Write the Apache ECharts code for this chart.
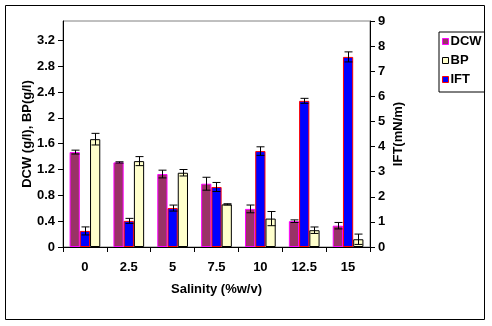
<!DOCTYPE html>
<html><head><meta charset="utf-8">
<script src="https://cdn.jsdelivr.net/npm/echarts@6/dist/echarts.min.js"></script>
<style>html,body{margin:0;padding:0;background:#fff}#c{width:492px;height:326px}</style>
</head><body><div id="c"></div>
<script>
const categories = ['0', '2.5', '5', '7.5', '10', '12.5', '15'];
const dcw = [1.47, 1.31, 1.13, 0.98, 0.59, 0.40, 0.33];
const dcwErr = [0.03, 0.01, 0.06, 0.10, 0.06, 0.02, 0.05];
const bp = [1.67, 1.33, 1.15, 0.66, 0.44, 0.26, 0.12];
const bpErr = [0.09, 0.07, 0.05, 0.01, 0.11, 0.05, 0.08];
const ift = [0.64, 1.04, 1.55, 2.39, 3.82, 5.82, 7.57];
const iftErr = [0.16, 0.10, 0.12, 0.18, 0.17, 0.10, 0.20];
const leftTicks = [0, 0.4, 0.8, 1.2, 1.6, 2, 2.4, 2.8, 3.2];

const FONT = "'Liberation Sans', Arial, sans-serif";
const FS = 13;
const GAP = 0.3;
function errRender(offsetIdx) {
  return function (params, api) {
    const xi = api.value(0), lo = api.value(1), hi = api.value(2);
    const band = api.size([1, 0])[0];
    const bw = band * (1 - GAP) / 3;
    const top = api.coord([xi, hi]);
    const bot = api.coord([xi, lo]);
    const x = Math.round(top[0] + offsetIdx * bw) + 0.5;
    const half = 4;
    const st = { stroke: '#000', lineWidth: 1 };
    return {
      type: 'group',
      children: [
        { type: 'line', shape: { x1: x, y1: top[1], x2: x, y2: bot[1] }, style: st },
        { type: 'line', shape: { x1: x - half, y1: top[1], x2: x + half, y2: top[1] }, style: st },
        { type: 'line', shape: { x1: x - half, y1: bot[1], x2: x + half, y2: bot[1] }, style: st }
      ]
    };
  };
}
function errData(v, e) { return v.map((d, i) => [i, d - e[i], d + e[i]]); }

const chart = echarts.init(document.getElementById('c'), null, { renderer: 'canvas' });
chart.setOption({
  animation: false,
  backgroundColor: '#fff',
  textStyle: { fontFamily: FONT },
  graphic: [{
    type: 'rect', shape: { x: 5.5, y: 5.5, width: 479, height: 314 },
    style: { fill: 'none', stroke: '#000', lineWidth: 1 }, z: 0
  }],
  grid: { left: 63, right: 122, top: 21, bottom: 79, show: true, borderColor: '#808080', borderWidth: 1, backgroundColor: 'transparent' },
  legend: {
    orient: 'vertical', left: 439, top: 32,
    data: ['DCW', 'BP', 'IFT'],
    icon: 'rect', itemWidth: 6, itemHeight: 6, itemGap: 6,
    itemStyle: { borderWidth: 1 },
    borderColor: '#000', borderWidth: 1, padding: [3, 3, 6, 3],
    textStyle: { fontFamily: FONT, fontWeight: 'bold', fontSize: FS, color: '#000', lineHeight: 13, padding: [0, 0, 0, -3] }
  },
  xAxis: {
    type: 'category', data: categories,
    name: 'Salinity (%w/v)', nameLocation: 'middle', nameGap: 36,
    nameTextStyle: { fontFamily: FONT, fontWeight: 'bold', fontSize: FS, color: '#000' },
    axisLine: { lineStyle: { color: '#000', width: 1 } },
    axisTick: { show: true, length: 5, lineStyle: { color: '#000' } },
    axisLabel: { margin: 14, fontFamily: FONT, fontWeight: 'bold', fontSize: FS, color: '#000' }
  },
  yAxis: [{
    type: 'value', min: 0, max: 3.5, interval: 0.4, position: 'left',
    name: 'DCW (g/l), BP(g/l)', nameLocation: 'middle', nameGap: 29, nameRotate: 90, nameMoveOverlap: false,
    nameTextStyle: { fontFamily: FONT, fontWeight: 'bold', fontSize: FS, color: '#000' },
    splitLine: { show: false },
    axisLine: { show: true, lineStyle: { color: '#000', width: 1 } },
    axisTick: { show: true, length: 5, lineStyle: { color: '#000' }, customValues: leftTicks },
    axisLabel: { margin: 8, customValues: leftTicks, fontFamily: FONT, fontWeight: 'bold', fontSize: FS, color: '#000' }
  }, {
    type: 'value', min: 0, max: 9, interval: 1, position: 'right',
    name: 'IFT(mN/m)', nameLocation: 'middle', nameGap: 22, nameRotate: 90, nameMoveOverlap: false,
    nameTextStyle: { fontFamily: FONT, fontWeight: 'bold', fontSize: FS, color: '#000' },
    splitLine: { show: false },
    axisLine: { show: true, lineStyle: { color: '#000', width: 1 } },
    axisTick: { show: true, length: 5, lineStyle: { color: '#000' } },
    axisLabel: { margin: 8, fontFamily: FONT, fontWeight: 'bold', fontSize: FS, color: '#000' }
  }],
  series: [
    { name: 'DCW', type: 'bar', yAxisIndex: 0, data: dcw, barGap: '0%', barCategoryGap: '30%',
      itemStyle: { color: '#993366', borderColor: '#FF00FF', borderWidth: 1 } },
    { name: 'IFT', type: 'bar', yAxisIndex: 1, data: ift, barGap: '0%', barCategoryGap: '30%',
      itemStyle: { color: '#0000FF', borderColor: '#FF0000', borderWidth: 1 } },
    { name: 'BP', type: 'bar', yAxisIndex: 0, data: bp, barGap: '0%', barCategoryGap: '30%',
      itemStyle: { color: '#FFFFCC', borderColor: '#000000', borderWidth: 1 } },
    { type: 'custom', yAxisIndex: 0, data: errData(dcw, dcwErr), encode: { x: 0, y: [1, 2] }, renderItem: errRender(-1), z: 5, silent: true },
    { type: 'custom', yAxisIndex: 1, data: errData(ift, iftErr), encode: { x: 0, y: [1, 2] }, renderItem: errRender(0), z: 5, silent: true },
    { type: 'custom', yAxisIndex: 0, data: errData(bp, bpErr), encode: { x: 0, y: [1, 2] }, renderItem: errRender(1), z: 5, silent: true }
  ]
});
</script></body></html>
